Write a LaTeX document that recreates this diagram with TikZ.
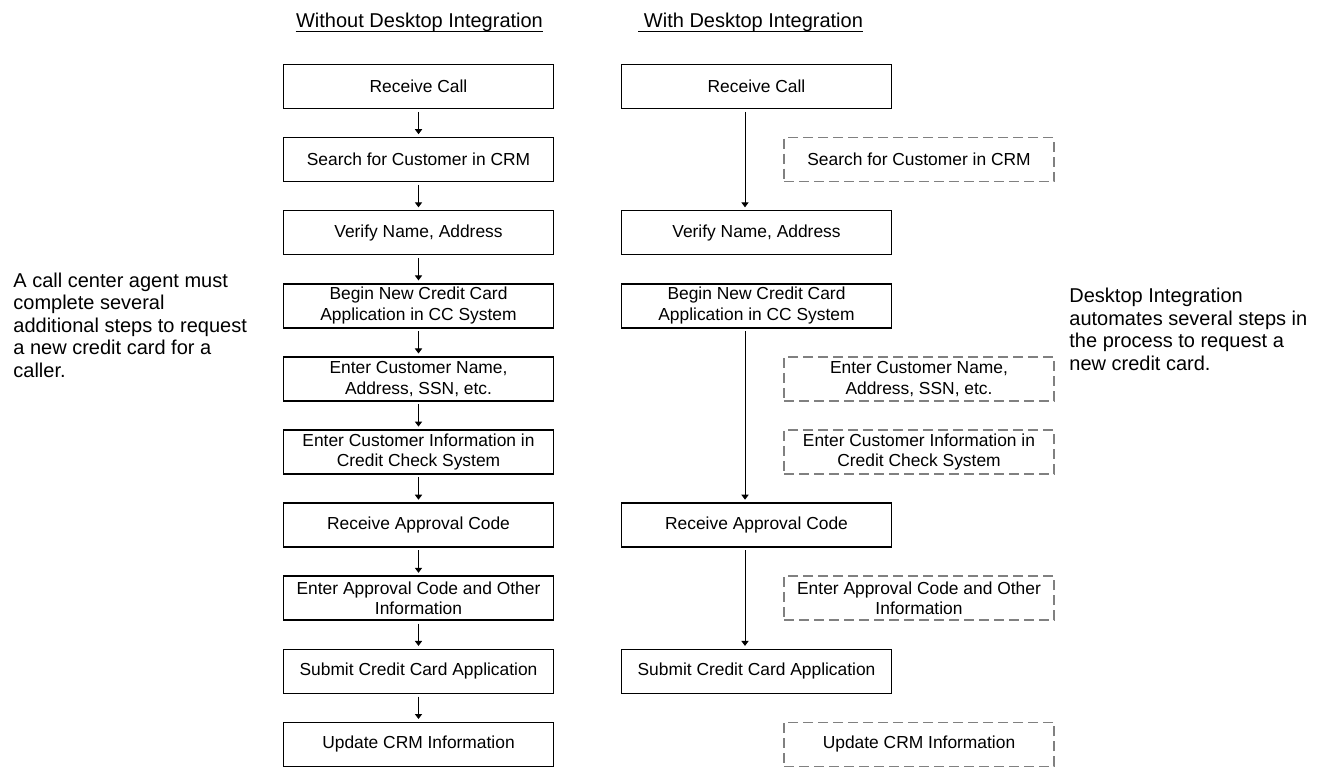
\documentclass[tikz,border=0pt]{standalone}
\usepackage{fontspec}
\setmainfont{Liberation Sans}
\usetikzlibrary{arrows.meta}

\tikzset{
	stepbox/.style={draw,line width=0.8pt,minimum width=135pt,minimum height=22pt,
		inner sep=0pt,align=center,font=\fontsize{8.7}{10.35}\selectfont},
	skipbox/.style={stepbox,draw=gray,dash pattern=on 5pt off 2.5pt},
	flow/.style={-{Triangle[width=3.6pt,length=2.5pt]},line width=0.5pt,
		shorten <=1.3pt,shorten >=1.3pt},
	note/.style={inner sep=0pt,align=left,font=\fontsize{10}{11.25}\selectfont},
	heading/.style={inner sep=0pt,font=\fontsize{10}{12}\selectfont}
}

\begin{document}
\begin{tikzpicture}[x=0.5pt,y=-0.5pt]
	\useasboundingbox (0,0) rectangle (1322,769);

	\node[heading,anchor=base] (wotitle) at (419.5,28) {Without Desktop Integration};
	\node[heading,anchor=base west] (wtitle) at (638,28) {\ With Desktop Integration};
	\draw[line width=0.6pt] ([yshift=-1.9pt]wotitle.base west) -- ([yshift=-1.9pt]wotitle.base east);
	\draw[line width=0.6pt] ([yshift=-1.9pt]wtitle.base west) -- ([yshift=-1.9pt]wtitle.base east);

	\foreach \txt [count=\i] in {Receive Call,Search for Customer in CRM,{Verify Name, Address},
		{Begin New Credit Card\\Application in CC System},{Enter Customer Name,\\Address, SSN, etc.},
		{Enter Customer Information in\\Credit Check System},Receive Approval Code,
		{Enter Approval Code and Other\\Information},Submit Credit Card Application,
		Update CRM Information}
		\node[stepbox] (l\i) at (418.5,{86.5+73.1*(\i-1)}) {\txt};

	\foreach \i [remember=\i as \last (initially 1)] in {2,...,10}
		\draw[flow] (l\last.south) -- (l\i.north);

	\node[stepbox] (r1) at (756.5,86.5) {Receive Call};
	\node[skipbox] (r2) at (919,159.6) {Search for Customer in CRM};
	\node[stepbox] (r3) at (756.5,232.7) {Verify Name, Address};
	\node[stepbox] (r4) at (756.5,305.8) {Begin New Credit Card\\Application in CC System};
	\node[skipbox] (r5) at (919,378.9) {Enter Customer Name,\\Address, SSN, etc.};
	\node[skipbox] (r6) at (919,452) {Enter Customer Information in\\Credit Check System};
	\node[stepbox] (r7) at (756.5,525.1) {Receive Approval Code};
	\node[skipbox] (r8) at (919,598.2) {Enter Approval Code and Other\\Information};
	\node[stepbox] (r9) at (756.5,671.3) {Submit Credit Card Application};
	\node[skipbox] (r10) at (919,744.4) {Update CRM Information};

	\draw[flow] ([xshift=-5.75pt]r1.south) -- ([xshift=-5.75pt]r3.north);
	\draw[flow] ([xshift=-5.75pt]r4.south) -- ([xshift=-5.75pt]r7.north);
	\draw[flow] ([xshift=-5.75pt]r7.south) -- ([xshift=-5.75pt]r9.north);

	\node[note,anchor=west] (leftnote) at (13,325)
		{A call center agent must\\complete several\\additional steps to request\\a new credit card for a\\caller.};
	\node[note,anchor=west] (rightnote) at (1069,329.5)
		{Desktop Integration\\automates several steps in\\the process to request a\\new credit card.};
\end{tikzpicture}
\end{document}
